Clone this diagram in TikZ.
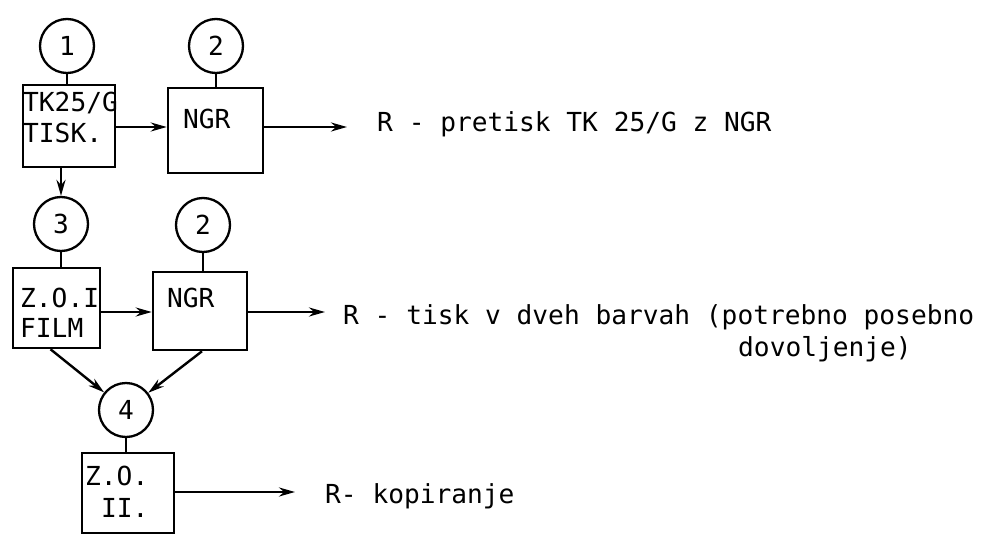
\documentclass[tikz,border=0pt]{standalone}
\usepackage{fontspec}
\setmonofont{DejaVu Sans Mono}
\usetikzlibrary{arrows.meta,calc}
\begin{document}
\begin{tikzpicture}[x=1pt,y=-1pt,
  box/.style={draw, line width=2.5pt, rectangle, inner sep=0pt},
  circ/.style={draw, line width=2.3pt, circle, minimum size=54pt, inner sep=0pt, font=\ttfamily\fontsize{26.2}{31}\selectfont},
  txt/.style={anchor=base west, inner sep=0pt, font=\ttfamily\fontsize{26.2}{31}\selectfont},
  ln/.style={line width=2.4pt},
  arr/.style={line width=2.4pt, -{Stealth[length=16pt,width=9pt]}}]
\useasboundingbox (0,0) rectangle (987,535);

% circles
\node[circ] (c1) at (67,46) {1};
\node[circ] (c2) at (216,46) {2};
\node[circ] (c3) at (61,224) {3};
\node[circ] (c2b) at (203,225) {2};
\node[circ] (c4) at (126,410) {4};

% boxes
\node[box, minimum width=92pt, minimum height=82pt] (b1) at (69,126) {};
\node[box, minimum width=95pt, minimum height=85pt] (ngr1) at (215.5,130.5) {};
\node[box, minimum width=87pt, minimum height=80pt] (zo1) at (56.5,308) {};
\node[box, minimum width=94pt, minimum height=78pt] (ngr2) at (200,311) {};
\node[box, minimum width=92pt, minimum height=80pt] (zo2) at (128,493) {};

% texts in boxes
\node[txt] (t1a) at (23,111) {TK25/G};
\node[txt] (t1b) at (23,142) {TISK.};
\node[txt] (tn1) at (183,128) {NGR};
\node[txt] (tz1a) at (20,307) {Z.O.I};
\node[txt] (tz1b) at (20,337) {FILM};
\node[txt] (tn2) at (167,307) {NGR};
\node[txt] (tz2a) at (85,485) {Z.O.};
\node[txt] (tz2b) at (101,517) {II.};

% result texts
\node[txt] (r1) at (377,131) {R - pretisk TK 25/G z NGR};
\node[txt] (r2a) at (343,324) {R - tisk v dveh barvah (potrebno posebno};
\node[txt] (r2b) at (738,356) {dovoljenje)};
\node[txt] (r3) at (325,503) {R- kopiranje};

% free ends
\coordinate (e1) at (347,127);
\coordinate (e2) at (325,312);
\coordinate (e3) at (295,492);

% stems
\draw[ln] (c1.south) -- (c1.south |- b1.north);
\draw[ln] (c2.south) -- (c2.south |- ngr1.north);
\draw[ln] (c3.south) -- (c3.south |- zo1.north);
\draw[ln] (c2b.south) -- (c2b.south |- ngr2.north);
\draw[ln] (c4.south) -- (c4.south |- zo2.north);

% arrows
\draw[arr] (b1.east |- e1) -- (ngr1.west |- e1);
\draw[arr] (ngr1.east |- e1) -- (e1);
\draw[arr] (b1.south -| c3.north) -- (c3.north);
\draw[arr] (zo1.east |- e2) -- (ngr2.west |- e2);
\draw[arr] (ngr2.east |- e2) -- (e2);
\draw[arr] ($(zo1.south)+(-6,0)$) -- (c4);
\draw[arr] ($(ngr2.south)+(2,0)$) -- (c4);
\draw[arr] (zo2.east |- e3) -- (e3);
\end{tikzpicture}
\end{document}
